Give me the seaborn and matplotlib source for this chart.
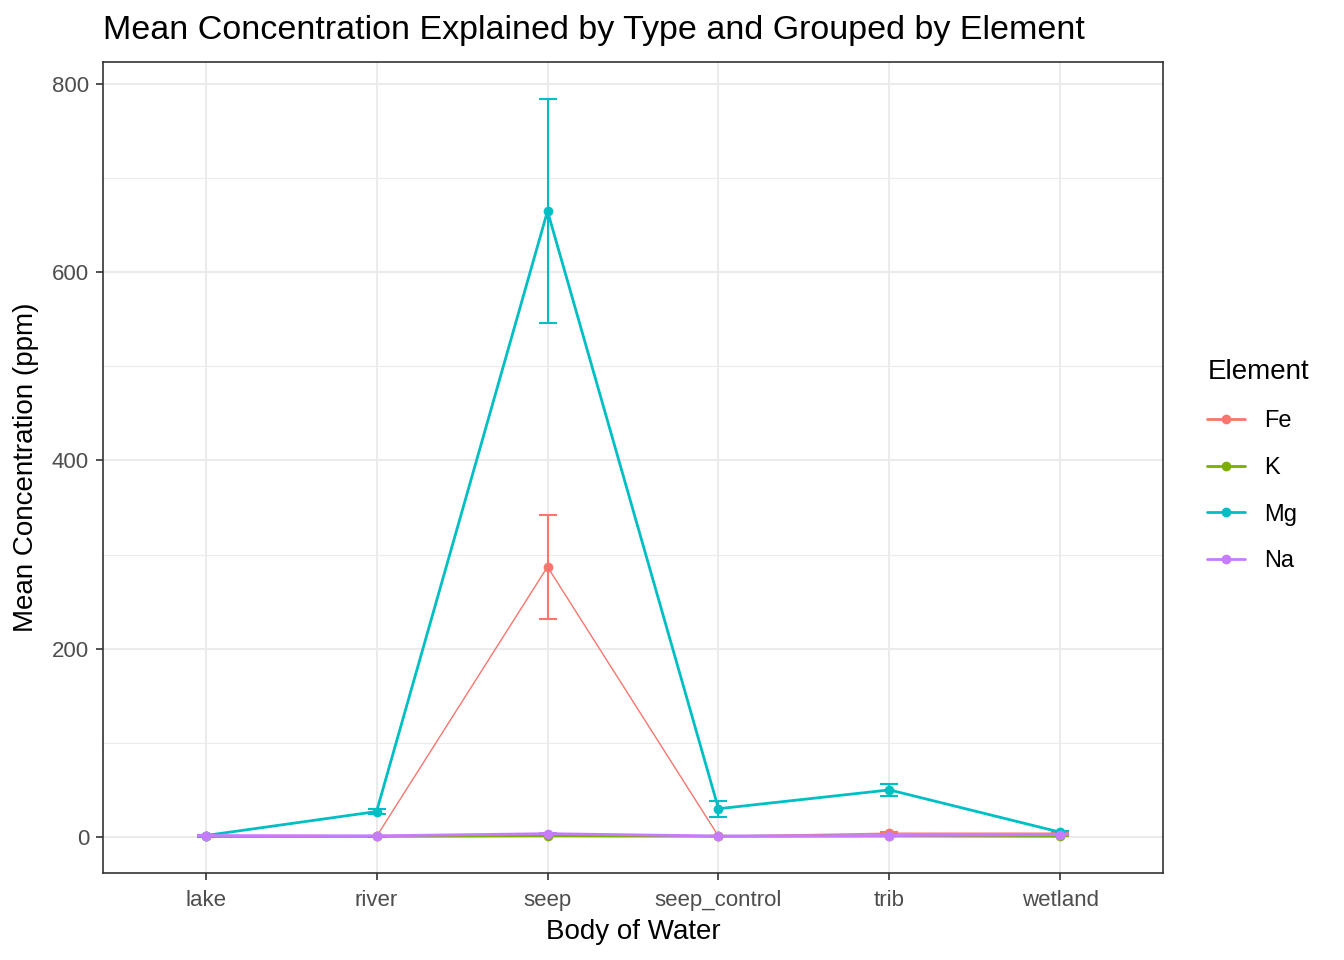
import numpy as np
import pandas as pd
import matplotlib
matplotlib.use("Agg")
import matplotlib.pyplot as plt
import seaborn as sns
from matplotlib.lines import Line2D

categories = ["lake", "river", "seep", "seep_control", "trib", "wetland"]
elements = ["Fe", "K", "Mg", "Na"]
fe_mean = [0.5, 0.5, 287, 0.8, 4.0, 4.0]
fe_se = [0.1, 0.1, 55, 0.2, 1.0, 0.8]
k_mean = [0.5, 0.6, 1.2, 0.7, 1.0, 0.8]
k_se = [0.1, 0.1, 0.3, 0.1, 0.2, 0.1]
mg_mean = [1.5, 27, 665, 30, 50, 5]
mg_se = [0.3, 3, 119, 8.5, 6, 1.5]
na_mean = [1.5, 1.2, 3.5, 1.0, 1.5, 2.5]
na_se = [0.2, 0.2, 0.6, 0.2, 0.3, 0.4]

colors = {"Fe": "#F8766D", "K": "#7CAE00", "Mg": "#00BFC4", "Na": "#C77CFF"}
widths = {"Fe": 1.0, "K": 2.0, "Mg": 2.0, "Na": 2.0}

means = {"Fe": fe_mean, "K": k_mean, "Mg": mg_mean, "Na": na_mean}
ses = {"Fe": fe_se, "K": k_se, "Mg": mg_se, "Na": na_se}

rows = []
for el in elements:
    for i, c in enumerate(categories):
        rows.append({"Type": c, "pos": i, "Element": el,
                     "Mean": means[el][i], "SE": ses[el][i]})
df = pd.DataFrame(rows)

sns.set_theme(style="whitegrid")
plt.rcParams["font.family"] = ["Liberation Sans", "DejaVu Sans"]
plt.rcParams["text.color"] = "black"

fig = plt.figure(figsize=(13.44, 9.6), dpi=100)
ax = fig.add_axes([103/1344, 87/960, 1060/1344, 811/960])
ax.set_facecolor("white")

for el in elements:
    sub = df[df["Element"] == el]
    sns.lineplot(data=sub, x="pos", y="Mean", color=colors[el], lw=widths[el],
                 marker="o", markersize=7, markeredgewidth=0, ax=ax,
                 legend=False, zorder=3, errorbar=None)
    ax.errorbar(sub["pos"], sub["Mean"], yerr=sub["SE"], fmt="none",
                ecolor=colors[el], elinewidth=1.5, capsize=6.5, capthick=1.5,
                zorder=3)

ax.set_xlim(-0.6, 5.6)
ax.set_ylim(-38.3, 823.4)
ax.set_xticks(range(len(categories)))
ax.set_xticklabels(categories)
ax.set_yticks([0, 200, 400, 600, 800])
ax.set_yticks([100, 300, 500, 700], minor=True)
ax.grid(which="major", color="#EBEBEB", lw=1.5)
ax.grid(which="minor", axis="y", color="#EBEBEB", lw=0.8)
ax.set_axisbelow(True)
for s in ax.spines.values():
    s.set_color("#333333")
    s.set_linewidth(1.2)
ax.tick_params(axis="both", which="major", bottom=True, left=True, length=5,
               width=1.2, color="#333333", labelsize=16, labelcolor="#4D4D4D", pad=5)
ax.tick_params(axis="x", which="major", pad=7)
ax.tick_params(axis="both", which="minor", length=0)
ax.set_xlabel("Body of Water", fontsize=20, color="black", labelpad=6)
ax.set_ylabel("Mean Concentration (ppm)", fontsize=20, color="black", labelpad=9)

fig.text(103/1344, 1 - 30/960, "Mean Concentration Explained by Type and Grouped by Element",
         fontsize=24.5, ha="left", va="center", color="black")

handles = [Line2D([0], [0], color=colors[el], lw=2, marker="o", markersize=7,
                  markeredgewidth=0) for el in elements]
leg = fig.legend(handles, elements, title="Element", loc="upper left",
                 bbox_to_anchor=(1186/1344, 1 - 338/960), frameon=False,
                 fontsize=17, title_fontsize=20, handlelength=1.6,
                 handletextpad=0.8, labelspacing=1.05, alignment="left")
for t in leg.get_texts():
    t.set_color("black")
leg.get_title().set_color("black")

fig.savefig("out.png", dpi=100)
